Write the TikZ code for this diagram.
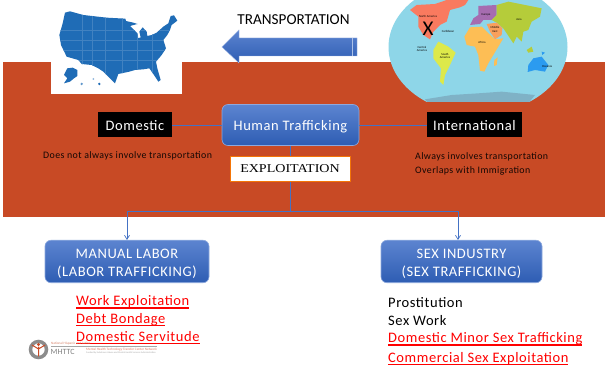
\documentclass[tikz,border=0pt]{standalone}
\usepackage{fontspec}
\setmainfont{Carlito}[LetterSpace=4]
\newfontfamily\exploitfont{Liberation Serif}[FakeStretch=1.17]
\newfontfamily\plainfont{Carlito}
\newsavebox{\ulinebox}
\newcommand{\redrule}[1]{\sbox{\ulinebox}{#1}\rlap{\usebox{\ulinebox}}\rule[-3pt]{\wd\ulinebox}{1.4pt}}
\def\usoutline{(45,38) -- (60,34) -- (100,45) -- (170,53) -- (226,56) -- (228,63) -- (250,68) -- (262,72) -- (240,78) -- (262,100) -- (265,115) -- (272,112) -- (268,95) -- (278,82) -- (290,95) -- (292,108) -- (305,105) -- (320,98) -- (340,80) -- (355,70) -- (362,48) -- (372,46) -- (382,62) -- (365,75) -- (360,90) -- (352,105) -- (340,120) -- (348,145) -- (335,165) -- (318,185) -- (322,205) -- (332,240) -- (325,245) -- (312,225) -- (298,205) -- (280,208) -- (255,210) -- (238,215) -- (205,222) -- (195,250) -- (180,235) -- (160,215) -- (145,205) -- (125,195) -- (95,192) -- (85,180) -- (50,170) -- (33,135) -- (28,105) -- (38,70) -- cycle}
\usetikzlibrary{arrows.meta}
\definecolor{brickred}{HTML}{C84A25}
\definecolor{linkblue}{HTML}{4472C4}
\definecolor{boxtop}{HTML}{5C84D0}
\definecolor{boxbottom}{HTML}{2E5DB3}
\definecolor{usblue}{HTML}{1F6CB6}
\definecolor{oceanblue}{HTML}{8ED6E8}
\definecolor{polarblue}{HTML}{7FB2C6}
\definecolor{namerica}{HTML}{F97A5F}
\definecolor{samerica}{HTML}{DDE94A}
\definecolor{africa}{HTML}{FDBE55}
\definecolor{europe}{HTML}{A66CB0}
\definecolor{asia}{HTML}{B5CC3A}
\definecolor{mideast}{HTML}{F9A05C}
\definecolor{oceania}{HTML}{2B9BF0}
\tikzset{
	bluebox/.style={rounded corners=6pt, top color=boxtop, bottom color=boxbottom, draw=boxtop!70!white, line width=0.6pt, text=white, align=center, inner sep=0pt},
	blackbox/.style={fill=black, text=white, inner sep=0pt, font=\fontsize{14.5}{16}\selectfont},
	link/.style={draw=linkblue, line width=0.7pt},
	note/.style={anchor=west, inner sep=0pt, text=black!90!brickred, font=\fontsize{9.9}{12}\selectfont},
	listitem/.style={anchor=west, inner sep=0pt, font=\fontsize{14.5}{16}\selectfont},
	reditem/.style={listitem, text=red},
	tinylabel/.style={inner sep=0pt, align=center, font=\plainfont\fontsize{3}{3.2}\selectfont},
}
\begin{document}
\begin{tikzpicture}[x=1pt, y=-1pt]
	%%%%% START %%%%%
	\useasboundingbox (0, 0) rectangle (605, 371);
	\fill[white] (0, 0) rectangle (605, 371);
	\fill[brickred] (3, 62) rectangle (605, 217);

	% usa map
	\fill[white] (51, 0) rectangle (182, 94);
	\begin{scope}[shift={(50, 0)}, scale=1/3]
		\fill[usblue] \usoutline;
		\fill[usblue] (52,205) -- (68,203) -- (82,210) -- (82,228) -- (72,235) -- (60,245) -- (42,250) -- (52,235) -- (42,225) -- cycle;
		\fill[usblue] (148,252) circle (4);
		\fill[usblue!70] (95,252) circle (4);
		\fill[usblue!50] (130,237) circle (3);
		\begin{scope}
			\clip \usoutline;
			\foreach \x in {95,125,165,215,262,305}
				\draw[usblue!85!white, line width=0.3pt] (\x, 30) -- (\x, 250);
			\foreach \y in {90,120,150,180}
				\draw[usblue!85!white, line width=0.3pt] (20, \y) -- (385, \y);
		\end{scope}
	\end{scope}

	% world map
	\begin{scope}
		\clip (385, 0) rectangle (570, 101.5);
		\clip (478, 47) ellipse (89.5 and 67);
		\fill[oceanblue] (385, 0) rectangle (570, 102);
		\begin{scope}[shift={(385, 0)}, scale=1/3]
			\fill[polarblue] (120,298) -- (200,285) -- (280,280) -- (350,275) -- (450,285) -- (430,310) -- (130,310) -- cycle;
			\fill[namerica] (75,30) -- (95,15) -- (150,12) -- (185,0) -- (250,0) -- (240,15) -- (225,22) -- (195,30) -- (185,65) -- (165,75) -- (145,95) -- (135,118) -- (115,105) -- (100,80) -- (100,50) -- cycle;
			\fill[samerica] (145,150) -- (160,125) -- (190,140) -- (212,158) -- (195,195) -- (180,225) -- (175,255) -- (165,245) -- (168,205) -- (145,175) -- cycle;
			\fill[africa] (238,110) -- (255,82) -- (290,80) -- (305,95) -- (330,118) -- (355,115) -- (325,165) -- (310,190) -- (298,215) -- (285,212) -- (280,165) -- (270,140) -- (245,135) -- cycle;
			\fill[africa] (328,180) -- (338,172) -- (335,195) -- (327,198) -- cycle;
			\fill[europe] (255,75) -- (265,55) -- (280,45) -- (280,18) -- (335,15) -- (335,45) -- (320,60) -- (295,60) -- (285,72) -- cycle;
			\fill[asia] (335,15) -- (370,5) -- (420,15) -- (470,25) -- (465,50) -- (440,65) -- (430,90) -- (415,95) -- (410,125) -- (395,110) -- (385,130) -- (355,85) -- (335,68) -- (320,60) -- (335,45) -- cycle;
			\fill[mideast] (305,72) -- (335,68) -- (352,85) -- (350,105) -- (330,118) -- (315,95) -- cycle;
			\fill[asia] (425,150) -- (440,140) -- (445,155) -- (430,158) -- cycle;
			\fill[oceania] (470,155) -- (480,158) -- (472,165) -- cycle;
			\fill[oceania] (430,195) -- (445,175) -- (470,170) -- (490,195) -- (480,215) -- (450,210) -- (428,216) -- cycle;
		\end{scope}
	\end{scope}
	\node[tinylabel] (northamerica) at (428, 16.5) {North America};
	\node[tinylabel] (caribbean) at (448, 31.5) {Caribbean};
	\node[tinylabel] (centralamerica) at (422, 49) {Central\\America};
	\node[tinylabel] (southamerica) at (445, 56) {South\\America};
	\node[tinylabel] (europe) at (486, 15) {Europe};
	\node[tinylabel] (asialabel) at (519, 19) {Asia};
	\node[tinylabel] (middleeast) at (495, 29.5) {Middle\\East};
	\node[tinylabel] (africalabel) at (482, 42) {Africa};
	\node[tinylabel] (oceanialabel) at (547, 66.5) {Oceania};
	\node[inner sep=0pt, font=\plainfont\fontsize{21}{21}\selectfont] (cross) at (428, 29) {X};

	% transportation arrow
	\node[inner sep=0pt, font=\plainfont\fontsize{15.2}{16}\selectfont] (transportation) at (293.5, 19.5) {TRANSPORTATION};
	\draw[boxtop!60!white, line width=0.4pt, top color=boxtop, bottom color=boxbottom] (357, 38) -- (239, 38) -- (239, 30) -- (222, 47) -- (239, 63) -- (239, 56) -- (357, 56) -- cycle;
	\draw[boxtop!50!white, line width=0.5pt] (352.5, 38) -- (352.5, 56);

	% boxes
	\node[bluebox, minimum width=137pt, minimum height=41pt, font=\fontsize{14.5}{16}\selectfont, text depth=0pt, text height=12pt] (trafficking) at (290.5, 125) {Human Trafficking};
	\node[blackbox, minimum width=74pt, minimum height=25pt, text depth=0pt, text height=12pt] (domestic) at (135, 125) {Domestic};
	\node[blackbox, minimum width=95pt, minimum height=25pt, text depth=0pt, text height=12pt] (international) at (474.5, 125) {International};
	\node[bluebox, minimum width=164pt, minimum height=42.5pt, font=\fontsize{14.5}{17.5}\selectfont] (manual) at (127, 261.5) {\rule{0pt}{14pt}MANUAL LABOR\\(LABOR TRAFFICKING)};
	\node[bluebox, minimum width=161pt, minimum height=42.5pt, font=\fontsize{14.5}{17.5}\selectfont] (sexindustry) at (461.5, 261.5) {\rule{0pt}{14pt}SEX INDUSTRY\\(SEX TRAFFICKING)};

	\coordinate (bend) at (290.5, 211.5);
	\coordinate (rightdrop) at (458, 240);
	\draw[link] (domestic) -- (trafficking);
	\draw[link] (trafficking) -- (international);
	\draw[link] (trafficking.south) -- (bend);
	\draw[link, -{Straight Barb[length=4pt, width=5pt]}] (bend) -| (manual.north);
	\draw[link, -{Straight Barb[length=4pt, width=5pt]}] (bend) -| (rightdrop);

	\node[draw=orange!80!brickred, fill=white, line width=0.8pt, inner sep=0pt, minimum width=120pt, minimum height=25pt, font=\exploitfont\fontsize{12}{14}\selectfont] (exploitation) at (290, 168.5) {EXPLOITATION};

	% notes
	\node[note] (domesticnote) at (43, 155.5) {Does not always involve transportation};
	\node[note] (alwaysnote) at (415, 157) {Always involves transportation};
	\node[note] (overlapnote) at (415, 170.5) {Overlaps with Immigration};

	% lists
	\node[reditem] (workitem) at (76, 302) {\redrule{Work Exploitation}};
	\node[reditem] (debtitem) at (76, 319.5) {\redrule{Debt Bondage}};
	\node[reditem] (servitudeitem) at (76, 337.5) {\redrule{Domestic Servitude}};
	\node[listitem] (prostitutionitem) at (388, 303) {Prostitution};
	\node[listitem] (sexworkitem) at (388, 320.5) {Sex Work};
	\node[reditem] (minoritem) at (388, 339) {\redrule{Domestic Minor Sex Trafficking}};
	\node[reditem] (commercialitem) at (388, 358.5) {\redrule{Commercial Sex Exploitation}};

	% logo
	\draw[black!45, line width=3.5pt, fill=white] (38.5, 349.5) circle (8);
	\draw[brickred, line width=1pt, line cap=round] (38.5, 347) -- (38.5, 356) (32, 345) -- (38.5, 349) -- (45, 345);
	\fill[brickred] (38.5, 344.5) circle (1.7);
	\node[anchor=west, inner sep=0pt, text=black!50, font=\plainfont\fontsize{8}{8}\selectfont] (mhttc) at (50.5, 352) {MHTTC};
	\node[anchor=west, inner sep=0pt, text=brickred!70!white, font=\plainfont\fontsize{3.4}{4}\selectfont] (nationalline) at (51, 344) {National Hispanic and Latino};
	\draw[black!35, line width=0.3pt] (51, 346) -- (157, 346);
	\node[anchor=west, inner sep=0pt, text=brickred!70!white, font=\plainfont\fontsize{3.4}{4}\selectfont] (networkline) at (86, 349.5) {Mental Health Technology Transfer Center Network};
	\node[anchor=west, inner sep=0pt, text=black!35, font=\plainfont\fontsize{2.4}{3}\selectfont] (fundedline) at (86, 352.5) {Funded by Substance Abuse and Mental Health Services Administration};
	%%%%% END %%%%%
\end{tikzpicture}
\end{document}
